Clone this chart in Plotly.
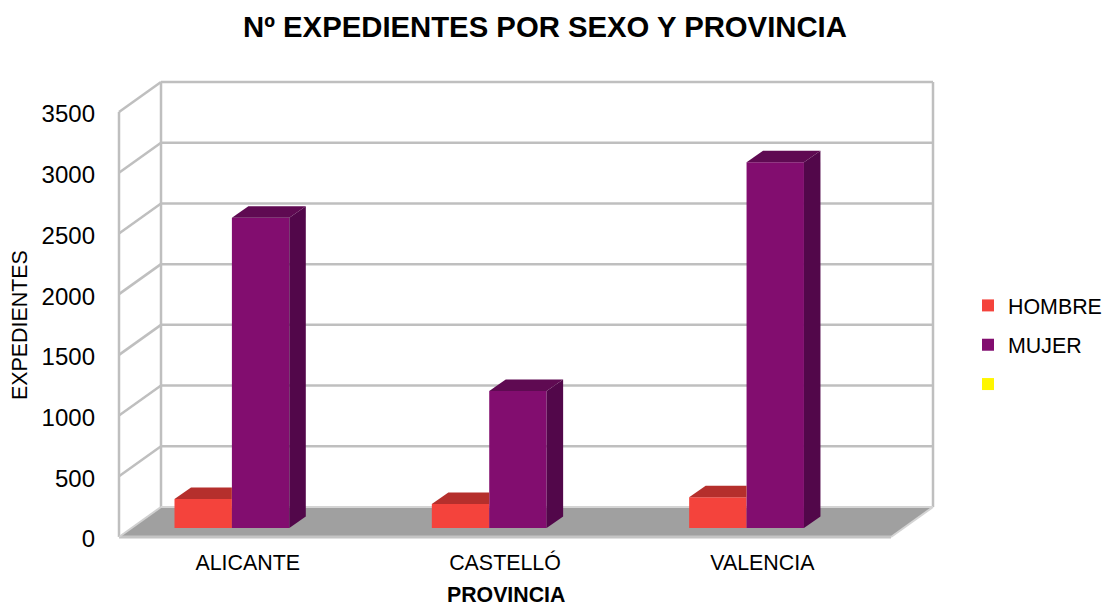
import plotly.graph_objects as go

# --- data ---
categories = ["ALICANTE", "CASTELLÓ", "VALENCIA"]
hombre = [239, 198, 253]
mujer = [2555, 1128, 3012]
blank = [None, None, None]
y_ticks = [0, 500, 1000, 1500, 2000, 2500, 3000, 3500]

# --- pseudo-3D layout (px on the reference page) ---
W, H = 1105, 606
FL, FR, FT, FB = 119, 933, 82, 537       # wall box
PAD = 3                                  # keeps edge lines from being clipped
L, R, T, B = FL - PAD, FR + PAD, FT - PAD, FB + PAD
SLOT = 257.33                            # px per category
YPX = 425 / 3500                         # px per value unit
WALL_DX, WALL_DY = 42, 30                # floor depth
BAR_FRONT = 0.30                         # bar front plane as fraction of depth
BAR_DX, BAR_DY = 16.5, 11.5              # bar depth
BAR_W = 57.4 / SLOT
GROUP_OFF = 57.4 / SLOT                  # purple is one bar width right of red
CAT0 = 247.7                             # px of first category centre

x_left = (FL - CAT0) / SLOT
x_right = (FR - CAT0) / SLOT
x_front_right = (891 - CAT0) / SLOT
fdx = WALL_DX / SLOT
fdy = WALL_DY / YPX
bdx = BAR_DX / SLOT
bdy = BAR_DY / YPX
base = fdy * BAR_FRONT
red_shift = (174.5 - CAT0) / SLOT + BAR_W / 2
pur_shift = red_shift + GROUP_OFF

GRID = "#BFBFBF"
FLOOR = "#A0A0A0"
RED, RED_TOP = "#F4433C", "#B52F2C"
PUR, PUR_TOP, PUR_SIDE = "#820D6F", "#5F0A52", "#52074A"
YEL = "#FFF600"


def paper_x(px):
    return (px - L) / (R - L)


def paper_y(py):
    return (B - py) / (B - T)


shapes = []


def line(xa, ya, xb, yb, w=2.5, c=GRID):
    shapes.append(dict(type="line", xref="x", yref="y", x0=xa, y0=ya, x1=xb, y1=yb,
                       line=dict(color=c, width=w), layer="below"))


# floor
shapes.append(dict(type="path", xref="x", yref="y", layer="below", fillcolor=FLOOR,
                   line=dict(width=0),
                   path=f"M{x_left},0 L{x_front_right},0 L{x_right},{fdy} L{x_left+fdx},{fdy} Z"))
# gridlines
for t in y_ticks[1:]:
    line(x_left, t, x_left + fdx, t + fdy)
    line(x_left + fdx, t + fdy, x_right, t + fdy)
# walls
line(x_left, 0, x_left, 3500)
line(x_left + fdx, fdy, x_left + fdx, 3500 + fdy)
line(x_right, fdy, x_right, 3500 + fdy)
line(x_left, 0, x_front_right, 0, w=3, c="#C4C4C4")
line(x_front_right, 0, x_right, fdy, w=2, c="#D4D4D4")
line(x_left + fdx, fdy, x_right, fdy, w=2, c="#D4D4D4")
line(x_left, 0, x_left + fdx, fdy, w=2, c="#D0D0D0")

fig = go.Figure()
xs = list(range(len(categories)))

fig.add_trace(go.Bar(name="HOMBRE", x=[i + red_shift for i in xs], y=hombre, base=base,
                     width=BAR_W, marker=dict(color=RED, line=dict(width=0)),
                     legendgroup="h", hoverinfo="skip"))
fig.add_trace(go.Bar(name="MUJER", x=[i + pur_shift for i in xs], y=mujer, base=base,
                     width=BAR_W, marker=dict(color=PUR, line=dict(width=0)),
                     legendgroup="m", hoverinfo="skip"))
fig.add_trace(go.Bar(name=" ", x=[i + pur_shift + GROUP_OFF for i in xs], y=blank, base=base,
                     width=BAR_W, marker=dict(color=YEL, line=dict(width=0)),
                     legendgroup="b", hoverinfo="skip"))


def poly(px, py, color):
    fig.add_trace(go.Scatter(x=px, y=py, mode="lines", fill="toself", fillcolor=color,
                             line=dict(width=0), showlegend=False, hoverinfo="skip"))


for i in xs:
    # red top, cut where the purple bar hides it
    a = i + red_shift - BAR_W / 2
    b = a + BAR_W
    t = hombre[i] + base
    poly([a, b, b, a + bdx, a], [t, t, t + bdy, t + bdy, t], RED_TOP)
    # purple top and side
    a = b
    b = a + BAR_W
    t = mujer[i] + base
    poly([a, b, b + bdx, a + bdx, a], [t, t, t + bdy, t + bdy, t], PUR_TOP)
    poly([b, b + bdx, b + bdx, b, b], [base, base + bdy, t + bdy, t, base], PUR_SIDE)

fig.update_layout(
    width=W, height=H, autosize=False,
    margin=dict(l=L, r=W - R, t=T, b=H - B),
    paper_bgcolor="white", plot_bgcolor="rgba(0,0,0,0)",
    barmode="overlay", shapes=shapes,
    font=dict(family="Liberation Sans, Arial, sans-serif", color="#000000"),
    title=dict(text="<b>Nº EXPEDIENTES POR SEXO Y PROVINCIA</b>", x=545 / W,
               xanchor="center", y=1 - 27 / H, yanchor="middle", font=dict(size=29.3)),
    xaxis=dict(range=[(L - CAT0) / SLOT, (R - CAT0) / SLOT], tickvals=xs, ticktext=categories,
               showgrid=False, zeroline=False, showline=False, ticks="",
               tickfont=dict(size=21.4), ticklabelstandoff=8),
    yaxis=dict(range=[-PAD / YPX, (FB - T) / YPX], tickvals=y_ticks, showgrid=False,
               zeroline=False, showline=False, ticks="", tickfont=dict(size=24),
               ticklabelstandoff=20, ticklabelshift=2),
    legend=dict(xref="container", x=968 / W, xanchor="left",
                yref="container", y=1 - 285 / H, yanchor="top",
                font=dict(size=21.4), tracegroupgap=8.5, bgcolor="rgba(0,0,0,0)"),
    annotations=[
        dict(text="EXPEDIENTES", xref="paper", yref="paper", x=paper_x(20),
             y=paper_y(325), textangle=-90, showarrow=False, font=dict(size=21.4),
             xanchor="center", yanchor="middle"),
        dict(text="<b>PROVINCIA</b>", xref="paper", yref="paper", x=paper_x(506),
             y=paper_y(595), showarrow=False, font=dict(size=21.3),
             xanchor="center", yanchor="middle"),
    ],
)
fig.write_html("out.html", config={"displayModeBar": False},
               post_script="document.body.style.margin='0';")
